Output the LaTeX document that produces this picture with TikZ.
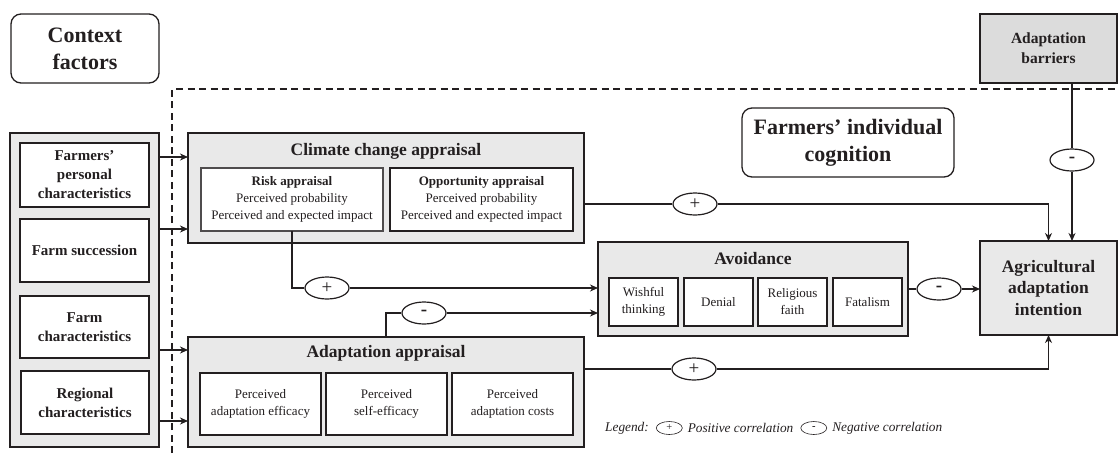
\documentclass[tikz,border=0pt]{standalone}
\usepackage{fontspec}
\setmainfont{Liberation Serif}
\usetikzlibrary{arrows.meta,shapes.geometric,positioning,calc}
\definecolor{ln}{HTML}{231F20}
\definecolor{gfill}{HTML}{E9E9E9}
\definecolor{bfill}{HTML}{DCDCDC}
\begin{document}
\begin{tikzpicture}[x=1pt,y=-1pt,
  sz/.style 2 args={minimum width=#1pt,minimum height=#2pt},
  basebox/.style={draw=ln,line width=1.3pt,inner sep=0pt,outer sep=0pt,anchor=north west,align=center,text=ln},
  gbox/.style={basebox,fill=gfill},
  wbox/.style={basebox,fill=white},
  rbox/.style={basebox,fill=white,rounded corners=10pt},
  huge/.style={font=\fontsize{22}{27}\selectfont\bfseries},
  ttl/.style={font=\fontsize{17.5}{22}\selectfont\bfseries,text=ln,inner sep=0pt},
  lbl/.style={font=\fontsize{15}{19}\selectfont\bfseries},
  sml/.style={font=\fontsize{13}{17}\selectfont},
  con/.style={draw=ln,line width=1.2pt},
  arr/.style={con,-{Stealth[length=8pt,width=7pt,inset=2.5pt]}},
  sign/.style={ellipse,draw=ln,fill=white,line width=1.2pt,minimum width=44pt,minimum height=22pt,inner sep=0pt,font=\fontsize{19}{19}\selectfont,text=ln},
  legt/.style={font=\fontsize{13.3}{15}\selectfont\itshape,text=ln,inner sep=0pt},
  legs/.style={ellipse,draw=ln,line width=0.6pt,minimum width=26pt,minimum height=13pt,inner sep=0pt,font=\fontsize{10.5}{10.5}\selectfont,text=ln}
]
\useasboundingbox (0,0) rectangle (1118,453);
% dashed frame
\draw[draw=ln,line width=1.2pt,dash pattern=on 7pt off 4.5pt] (172,453) -- (172,89) -- (1118,89);

% context side
\node[rbox,huge,sz={148}{69}] (ctx) at (11,14) {Context\\factors};
\node[gbox,sz={149}{314}] (leftbg) at (10,133) {};
\node[wbox,lbl,sz={129}{64}] (f1) at (20,143) {Farmers’\\personal\\characteristics};
\node[wbox,lbl,sz={129}{63}] (f2) at (20,219) {Farm succession};
\node[wbox,lbl,sz={129}{62}] (f3) at (20,296) {Farm\\characteristics};
\node[wbox,lbl,sz={128}{63}] (f4) at (21,371) {Regional\\characteristics};

% climate change appraisal
\node[gbox,sz={396}{110}] (cca) at (188,133) {};
\node[ttl] (ccat) at (386,151) {Climate change appraisal};
\node[basebox,fill=white,draw=ln!80,sml,sz={182}{63}] (risk) at (201,168) {\textbf{Risk appraisal}\\Perceived probability\\Perceived and expected impact};
\node[wbox,sml,sz={183}{63}] (opp) at (390,168) {\textbf{Opportunity appraisal}\\Perceived probability\\Perceived and expected impact};

% adaptation appraisal
\node[gbox,sz={396}{110}] (aa) at (188,337) {};
\node[ttl] (aat) at (386,353) {Adaptation appraisal};
\node[wbox,sml,sz={121}{62}] (ae1) at (200,373) {Perceived\\adaptation efficacy};
\node[wbox,sml,sz={121}{62}] (ae2) at (326,373) {Perceived\\self-efficacy};
\node[wbox,sml,sz={121}{62}] (ae3) at (452,373) {Perceived\\adaptation costs};

% avoidance
\node[gbox,sz={310}{94}] (avoid) at (598,242) {};
\node[ttl] (avt) at (753,259) {Avoidance};
\node[wbox,sml,sz={69}{48}] (w1) at (609,278) {Wishful\\thinking};
\node[wbox,sml,sz={69}{48}] (w2) at (684,278) {Denial};
\node[wbox,sml,sz={69}{48}] (w3) at (758,278) {Religious\\faith};
\node[wbox,sml,sz={69}{48}] (w4) at (833,278) {Fatalism};

% right side
\node[gbox,font=\fontsize{17.5}{21.5}\selectfont\bfseries,sz={137}{94}] (agri) at (980,241) {Agricultural\\adaptation\\intention};
\node[basebox,fill=bfill,font=\fontsize{15.5}{20}\selectfont\bfseries,sz={137}{69}] (barr) at (980,14) {Adaptation\\barriers};
\node[rbox,huge,sz={212}{69}] (cog) at (742,108) {Farmers’ individual\\cognition};

% sign ellipses
\node[sign] (p1) at (695,204) {+};
\node[sign] (m1) at (1072,160) {\bfseries -};
\node[sign] (p2) at (327,288) {+};
\node[sign] (m2) at (424,313) {\bfseries -};
\node[sign] (m3) at (939,289) {\bfseries -};
\node[sign] (p3) at (694,369) {+};

% left arrows
\coordinate (a1) at (0,157);
\coordinate (a2) at (0,229);
\coordinate (a3) at (0,350);
\coordinate (a4) at (0,421);
\draw[arr] (leftbg.east |- a1) -- (cca.west |- a1);
\draw[arr] (leftbg.east |- a2) -- (cca.west |- a2);
\draw[arr] (leftbg.east |- a3) -- (aa.west |- a3);
\draw[arr] (leftbg.east |- a4) -- (aa.west |- a4);

% connectors
\draw[con] (cca.east |- p1) -- (p1.west);
\draw[arr] (p1.east) -| (agri.north);
\draw[con] (m1 |- barr.south) -- (m1.north);
\draw[arr] (m1.south) -- (m1 |- agri.north);
\draw[con] (risk.south) |- (p2.west);
\draw[arr] (p2.east) -- (p2 -| avoid.west);
\draw[con] (aa.north) |- (m2.west);
\draw[arr] (m2.east) -- (m2 -| avoid.west);
\draw[con] (avoid.east |- m3) -- (m3.west);
\draw[arr] (m3.east) -- (agri.west |- m3);
\draw[con] (aa.east |- p3) -- (p3.west);
\draw[arr] (p3.east) -| (agri.south);

% legend
\node[legt,anchor=west] (lg) at (605,428) {Legend:};
\node[legs,right=7pt of lg] (le1) {+};
\node[legt,right=5pt of le1] (lt1) {Positive correlation};
\node[legs,right=7pt of lt1] (le2) {\bfseries -};
\node[legt,right=5pt of le2] (lt2) {Negative correlation};
\end{tikzpicture}
\end{document}
